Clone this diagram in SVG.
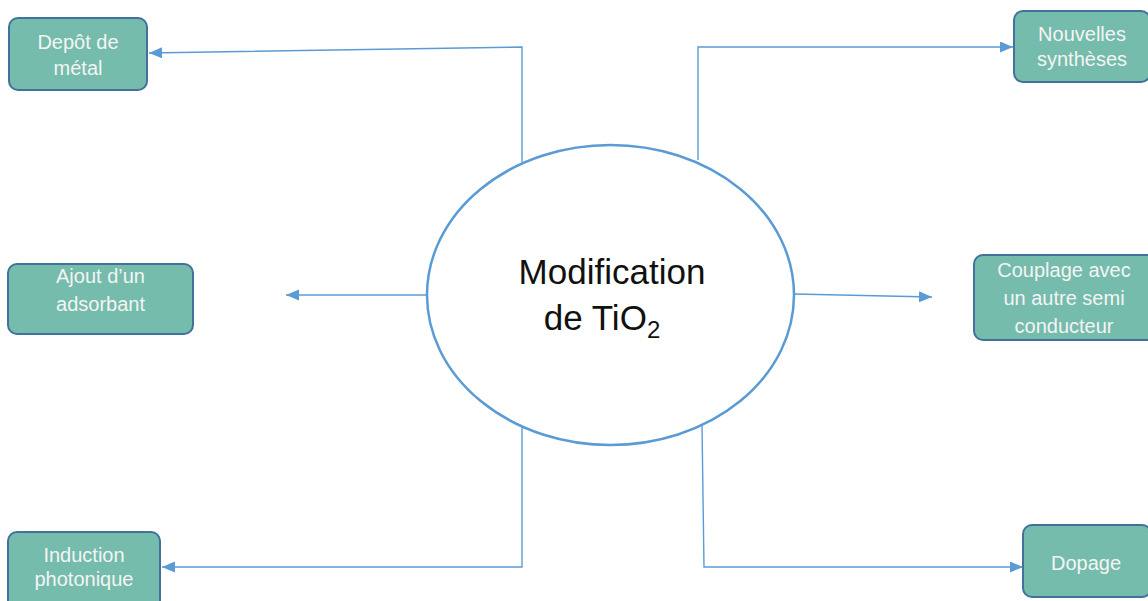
<svg xmlns="http://www.w3.org/2000/svg" width="1148" height="601" viewBox="0 0 1148 601">
  <style>
    .box { fill: #75BCAC; stroke: #41719C; stroke-width: 2; }
    .lbl { font-family: "Liberation Sans", Arial, sans-serif; font-size: 20px; fill: #F4F4F4; text-anchor: middle; }
    .wire { fill: none; stroke: #5B9BD5; stroke-width: 1.4; }
    .hub { fill: #FFFFFF; stroke: #5B9BD5; stroke-width: 2.5; }
    .title { font-family: "Liberation Sans", Arial, sans-serif; font-size: 35px; fill: #111111; text-anchor: middle; }
  </style>
  <defs>
    <marker id="arrow" markerUnits="userSpaceOnUse" markerWidth="14" markerHeight="12" refX="13" refY="5.5" orient="auto">
      <path d="M0,0 L13,5.5 L0,11 z" fill="#5B9BD5"/>
    </marker>
  </defs>
  <rect width="1148" height="601" fill="#FFFFFF"/>

  <!-- connectors -->
  <g id="connectors" class="wire" marker-end="url(#arrow)">
    <path d="M522,162 L522,47 L149,53"/>
    <path d="M698,160 L698,47 L1013,47"/>
    <path d="M427,295 L286,295"/>
    <path d="M794,294 L932,297"/>
    <path d="M522,426 L522,567 L162,567"/>
    <path d="M702,425 L704,567 L1023,567"/>
  </g>

  <!-- central node -->
  <g id="hub">
    <ellipse class="hub" cx="610.5" cy="295" rx="183.5" ry="150"/>
    <text class="title" x="612" y="284">Modification</text>
    <text class="title" x="602" y="330">de TiO<tspan font-size="24" dy="8">2</tspan></text>
  </g>

  <g id="depot-metal">
    <rect class="box" x="9" y="18" width="138" height="72" rx="9"/>
    <text class="lbl" x="78" y="49">Depôt de</text>
    <text class="lbl" x="78" y="75">métal</text>
  </g>

  <g id="nouvelles-syntheses">
    <rect class="box" x="1014" y="11" width="136" height="71" rx="9"/>
    <text class="lbl" x="1082" y="41">Nouvelles</text>
    <text class="lbl" x="1082" y="66">synthèses</text>
  </g>

  <g id="ajout-adsorbant">
    <rect class="box" x="8" y="264" width="185" height="70" rx="9"/>
    <text class="lbl" x="100.5" y="283">Ajout d’un</text>
    <text class="lbl" x="100.5" y="311">adsorbant</text>
  </g>

  <g id="couplage">
    <rect class="box" x="974" y="255" width="182" height="85" rx="9"/>
    <text class="lbl" x="1064" y="277">Couplage avec</text>
    <text class="lbl" x="1064" y="305">un autre semi</text>
    <text class="lbl" x="1064" y="333">conducteur</text>
  </g>

  <g id="induction-photonique">
    <rect class="box" x="8" y="532" width="152" height="80" rx="9"/>
    <text class="lbl" x="84" y="562">Induction</text>
    <text class="lbl" x="84" y="586">photonique</text>
  </g>

  <g id="dopage">
    <rect class="box" x="1023" y="525" width="128" height="72" rx="9"/>
    <text class="lbl" x="1086" y="570">Dopage</text>
  </g>
</svg>
